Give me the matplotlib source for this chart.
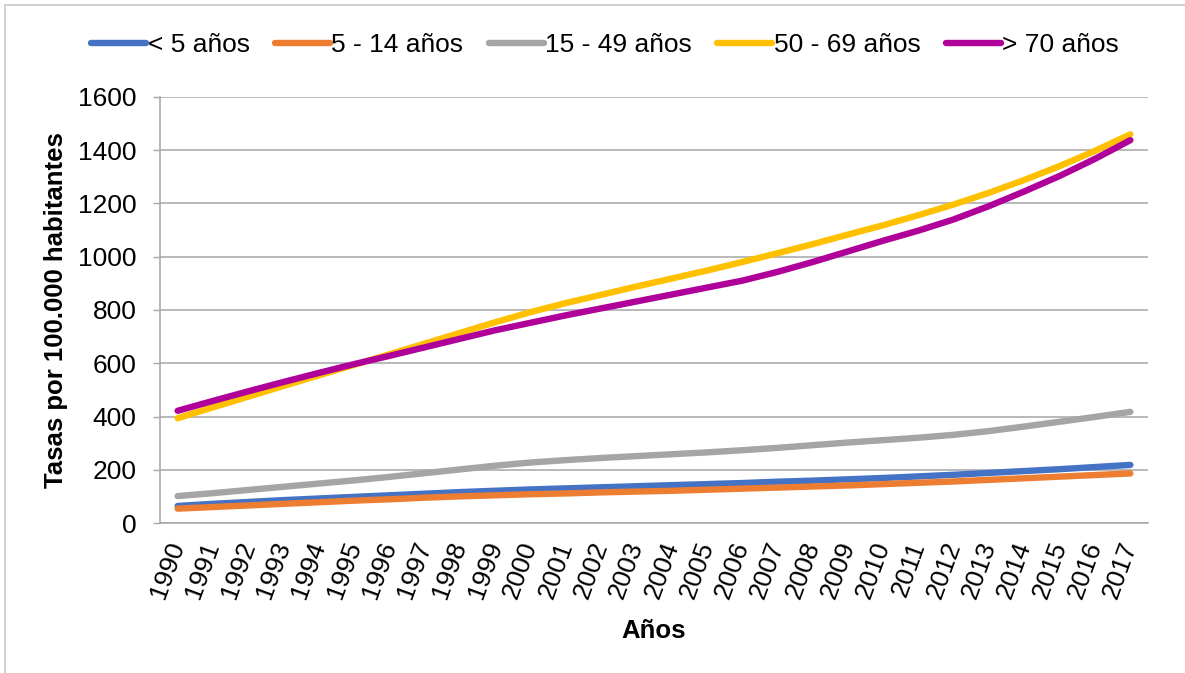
import matplotlib
matplotlib.use("Agg")
import matplotlib.pyplot as plt
from matplotlib.patches import Rectangle

plt.rcParams['font.family'] = ['Liberation Sans', 'DejaVu Sans']

years = list(range(1990, 2018))

menores_5 = [65, 73, 80, 87, 93, 99, 105, 111, 117, 122, 127, 131, 135, 139,
             143, 147, 151, 156, 160, 165, 170, 176, 182, 189, 196, 203, 211, 219]
de_5_14 = [55, 61, 67, 73, 79, 85, 90, 96, 101, 105, 109, 112, 116, 119,
           122, 126, 130, 134, 138, 142, 147, 152, 157, 163, 169, 175, 181, 187]
de_15_49 = [102, 113, 125, 137, 149, 161, 174, 188, 202, 216, 228, 237, 245, 252,
            259, 266, 274, 283, 293, 303, 312, 321, 332, 346, 363, 381, 399, 418]
de_50_69 = [394, 435, 475, 515, 555, 594, 634, 674, 714, 754, 792, 826, 857, 888,
            918, 948, 980, 1013, 1047, 1083, 1118, 1156, 1196, 1240, 1288, 1340, 1397, 1459]
mayores_70 = [422, 459, 495, 530, 564, 597, 628, 660, 692, 724, 752, 780, 806, 832,
              858, 884, 910, 943, 980, 1020, 1060, 1098, 1140, 1190, 1245, 1303, 1367, 1437]

series_labels = ['< 5 años', '5 - 14 años', '15 - 49 años', '50 - 69 años', '> 70 años']
series_colors = ['#4472C4', '#ED7D31', '#A5A5A5', '#FFC000', '#B0009A']
y_ticks = [0, 200, 400, 600, 800, 1000, 1200, 1400, 1600]

FS = 19

fig = plt.figure(figsize=(11.85, 6.73), dpi=100)
ax = fig.add_axes([160 / 1185, 1 - 523.3 / 673, 988 / 1185, (523.3 - 96.7) / 673])

# outer chart frame
fig.patches.append(Rectangle((5 / 1185, -0.05), 1.2, 1 - 5 / 673 + 0.05,
                             transform=fig.transFigure, fill=False,
                             edgecolor='#c8c8c8', linewidth=1.2))

x = list(range(len(years)))
all_series = [menores_5, de_5_14, de_15_49, de_50_69, mayores_70]
for vals, lab, col in zip(all_series, series_labels, series_colors):
    ax.plot(x, vals, color=col, linewidth=4.6, solid_capstyle='round',
            solid_joinstyle='round', label=lab)

ax.set_xlim(-0.5, len(years) - 0.5)
ax.set_ylim(0, 1600)
ax.set_yticks(y_ticks)
ax.set_yticklabels([str(t) for t in y_ticks], fontsize=FS)
ax.set_xticks(x)
ax.set_xticklabels([str(y) for y in years], fontsize=FS, rotation=70,
                   ha='right', va='center', rotation_mode='anchor')
ax.tick_params(axis='x', length=0, pad=14)
ax.tick_params(axis='y', length=5, width=1, color='#a6a6a6', pad=12)

ax.grid(axis='y', color='#a6a6a6', linewidth=1.1)
ax.set_axisbelow(True)
for side in ['top', 'right']:
    ax.spines[side].set_visible(False)
for side in ['left', 'bottom']:
    ax.spines[side].set_color('#a6a6a6')
    ax.spines[side].set_linewidth(1.1)

ax.set_ylabel('Tasas por 100.000 habitantes', fontsize=18.5, fontweight='bold', labelpad=7)
ax.set_xlabel('Años', fontsize=18.5, fontweight='bold', labelpad=12)

fig.legend(loc='center', bbox_to_anchor=(605 / 1185, 1 - 45 / 673), ncol=5,
           frameon=False, fontsize=FS, handlelength=2.1, handletextpad=0.05,
           columnspacing=0.95)

fig.savefig('out.png', dpi=100)
